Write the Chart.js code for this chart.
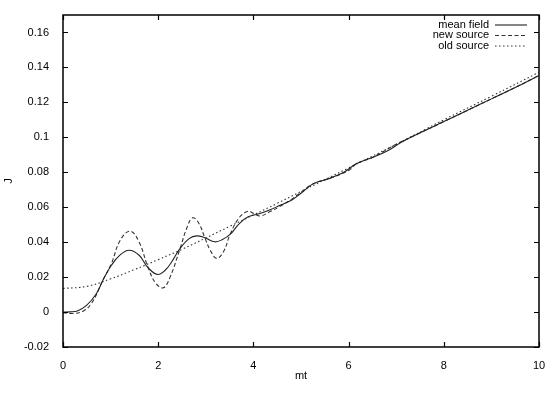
<!DOCTYPE html>
<html>
<head>
<meta charset="utf-8">
<script src="https://cdn.jsdelivr.net/npm/chart.js@4"></script>
<style>
  html, body { margin: 0; padding: 0; background: #fff; }
  #wrap { width: 554px; height: 393px; }
</style>
</head>
<body>
<div id="wrap"><canvas id="chartJ"></canvas></div>
<script>
// series (x = mt, y = J)
const seriesLabels = ['mean field', 'new source', 'old source'];

const meanX = [0, 0.15, 0.3, 0.5, 0.7, 0.84, 1.02, 1.2, 1.39, 1.6, 1.79, 2.0, 2.2, 2.46, 2.65, 2.81, 2.98, 3.19, 3.35, 3.51, 3.7, 3.89, 4.14, 4.35, 4.56, 4.8, 5.0, 5.26, 5.6, 5.9, 6.17, 6.5, 6.8, 7.1, 7.46, 8.0, 8.5, 9.0, 9.5, 10];
const meanY = [0, 0.0001, 0.0006, 0.004, 0.0105, 0.0183, 0.0269, 0.0327, 0.0354, 0.0325, 0.0253, 0.0215, 0.0255, 0.0364, 0.042, 0.0436, 0.0425, 0.0402, 0.0415, 0.0444, 0.0505, 0.0545, 0.0564, 0.0585, 0.0611, 0.064, 0.068, 0.0735, 0.0765, 0.080, 0.085, 0.0885, 0.092, 0.097, 0.102, 0.109, 0.1155, 0.122, 0.1285, 0.1354];

const newX = [0, 0.21, 0.42, 0.6, 0.84, 1.02, 1.2, 1.41, 1.6, 1.79, 1.95, 2.11, 2.25, 2.46, 2.6, 2.72, 2.85, 2.98, 3.1, 3.23, 3.38, 3.51, 3.7, 3.89, 4.0, 4.14, 4.35, 4.56, 4.8, 5.0, 5.26, 5.6, 6.0, 6.17, 6.5, 7.0, 7.46, 8.0, 8.5, 9.0, 9.5, 10];
const newY = [-0.0003, -0.0008, 0.0005, 0.005, 0.0183, 0.028, 0.041, 0.0463, 0.040, 0.0253, 0.0165, 0.0139, 0.020, 0.0364, 0.048, 0.0539, 0.051, 0.0425, 0.035, 0.0307, 0.035, 0.0444, 0.054, 0.0577, 0.0565, 0.055, 0.0575, 0.0605, 0.0645, 0.0685, 0.0735, 0.0765, 0.081, 0.085, 0.0885, 0.096, 0.102, 0.109, 0.1155, 0.122, 0.1285, 0.1354];

const oldX = [0, 0.5, 1.0, 1.5, 2.0, 2.5, 3.0, 3.5, 4.0, 4.5, 5.0, 6.0, 7.0, 8.0, 9.0, 10];
const oldY = [0.0135, 0.0147, 0.019, 0.0243, 0.030, 0.0359, 0.0424, 0.049, 0.0556, 0.0622, 0.069, 0.0825, 0.096, 0.110, 0.1235, 0.1372];

const xTicks = [0, 2, 4, 6, 8, 10];
const yTicks = [-0.02, 0, 0.02, 0.04, 0.06, 0.08, 0.1, 0.12, 0.14, 0.16];

const FONT = '"Liberation Sans", Arial, Helvetica, sans-serif';

function pts(xs, ys) {
  return xs.map((x, i) => ({ x, y: ys[i] }));
}

// gnuplot style box, inward ticks on all sides, and the key
const frame = {
  id: 'frame',
  afterDatasetsDraw(chart) {
    const { ctx, chartArea: a, scales: { x, y } } = chart;
    ctx.save();
    ctx.strokeStyle = '#000';
    ctx.lineWidth = 1.5;
    ctx.strokeRect(a.left, a.top, a.right - a.left, a.bottom - a.top);
    ctx.lineWidth = 1.2;
    ctx.beginPath();
    y.ticks.forEach(t => {
      const p = Math.round(y.getPixelForValue(t.value)) + 0.5;
      ctx.moveTo(a.left, p); ctx.lineTo(a.left + 5, p);
      ctx.moveTo(a.right, p); ctx.lineTo(a.right - 5, p);
    });
    x.ticks.forEach(t => {
      const p = Math.round(x.getPixelForValue(t.value)) + 0.5;
      ctx.moveTo(p, a.bottom); ctx.lineTo(p, a.bottom - 5);
      ctx.moveTo(p, a.top); ctx.lineTo(p, a.top + 5);
    });
    ctx.stroke();

    ctx.font = '11px ' + FONT;
    ctx.fillStyle = '#000';
    ctx.textAlign = 'right';
    ctx.textBaseline = 'middle';
    chart.data.datasets.forEach((d, i) => {
      const yy = a.top + 9.5 + i * 10.5;
      ctx.fillText(d.label, a.right - 50, yy);
      ctx.strokeStyle = d.borderColor;
      ctx.lineWidth = d.borderWidth;
      ctx.setLineDash(d.borderDash || []);
      ctx.beginPath();
      ctx.moveTo(a.right - 44, yy + 0.5);
      ctx.lineTo(a.right - 12, yy + 0.5);
      ctx.stroke();
    });
    ctx.restore();
  }
};

new Chart(document.getElementById('chartJ'), {
  type: 'line',
  data: {
    datasets: [
      { label: seriesLabels[0], data: pts(meanX, meanY), borderColor: '#222', borderWidth: 1.1, borderDash: [] },
      { label: seriesLabels[1], data: pts(newX, newY), borderColor: '#333', borderWidth: 1.1, borderDash: [4, 2.5] },
      { label: seriesLabels[2], data: pts(oldX, oldY), borderColor: '#333', borderWidth: 1.1, borderDash: [1.5, 2.5] }
    ]
  },
  options: {
    responsive: true,
    maintainAspectRatio: false,
    animation: false,
    layout: { padding: { left: 0, right: 15, top: 15, bottom: 0 } },
    elements: {
      point: { radius: 0 },
      line: { tension: 0.4, fill: false }
    },
    plugins: { legend: { display: false }, tooltip: { enabled: false } },
    scales: {
      x: {
        type: 'linear',
        min: 0, max: 10,
        afterFit: s => { s.height = 46; },
        afterBuildTicks: s => { s.ticks = xTicks.map(v => ({ value: v })); },
        grid: { display: false },
        border: { display: false },
        ticks: { color: '#000', font: { family: FONT, size: 11 }, padding: 4, maxRotation: 0, callback: v => String(v) },
        title: { display: true, text: 'mt', color: '#000', font: { family: FONT, size: 11 }, padding: { top: 4, bottom: 10 } }
      },
      y: {
        min: -0.02, max: 0.17,
        afterFit: s => { s.width = 63; },
        afterBuildTicks: s => { s.ticks = yTicks.map(v => ({ value: v })); },
        grid: { display: false },
        border: { display: false },
        ticks: { color: '#000', font: { family: FONT, size: 11 }, padding: 6, callback: v => String(+v.toFixed(2)) },
        title: { display: true, text: 'J', color: '#000', font: { family: FONT, size: 11 }, padding: 2 }
      }
    }
  },
  plugins: [frame]
});
</script>
</body>
</html>
